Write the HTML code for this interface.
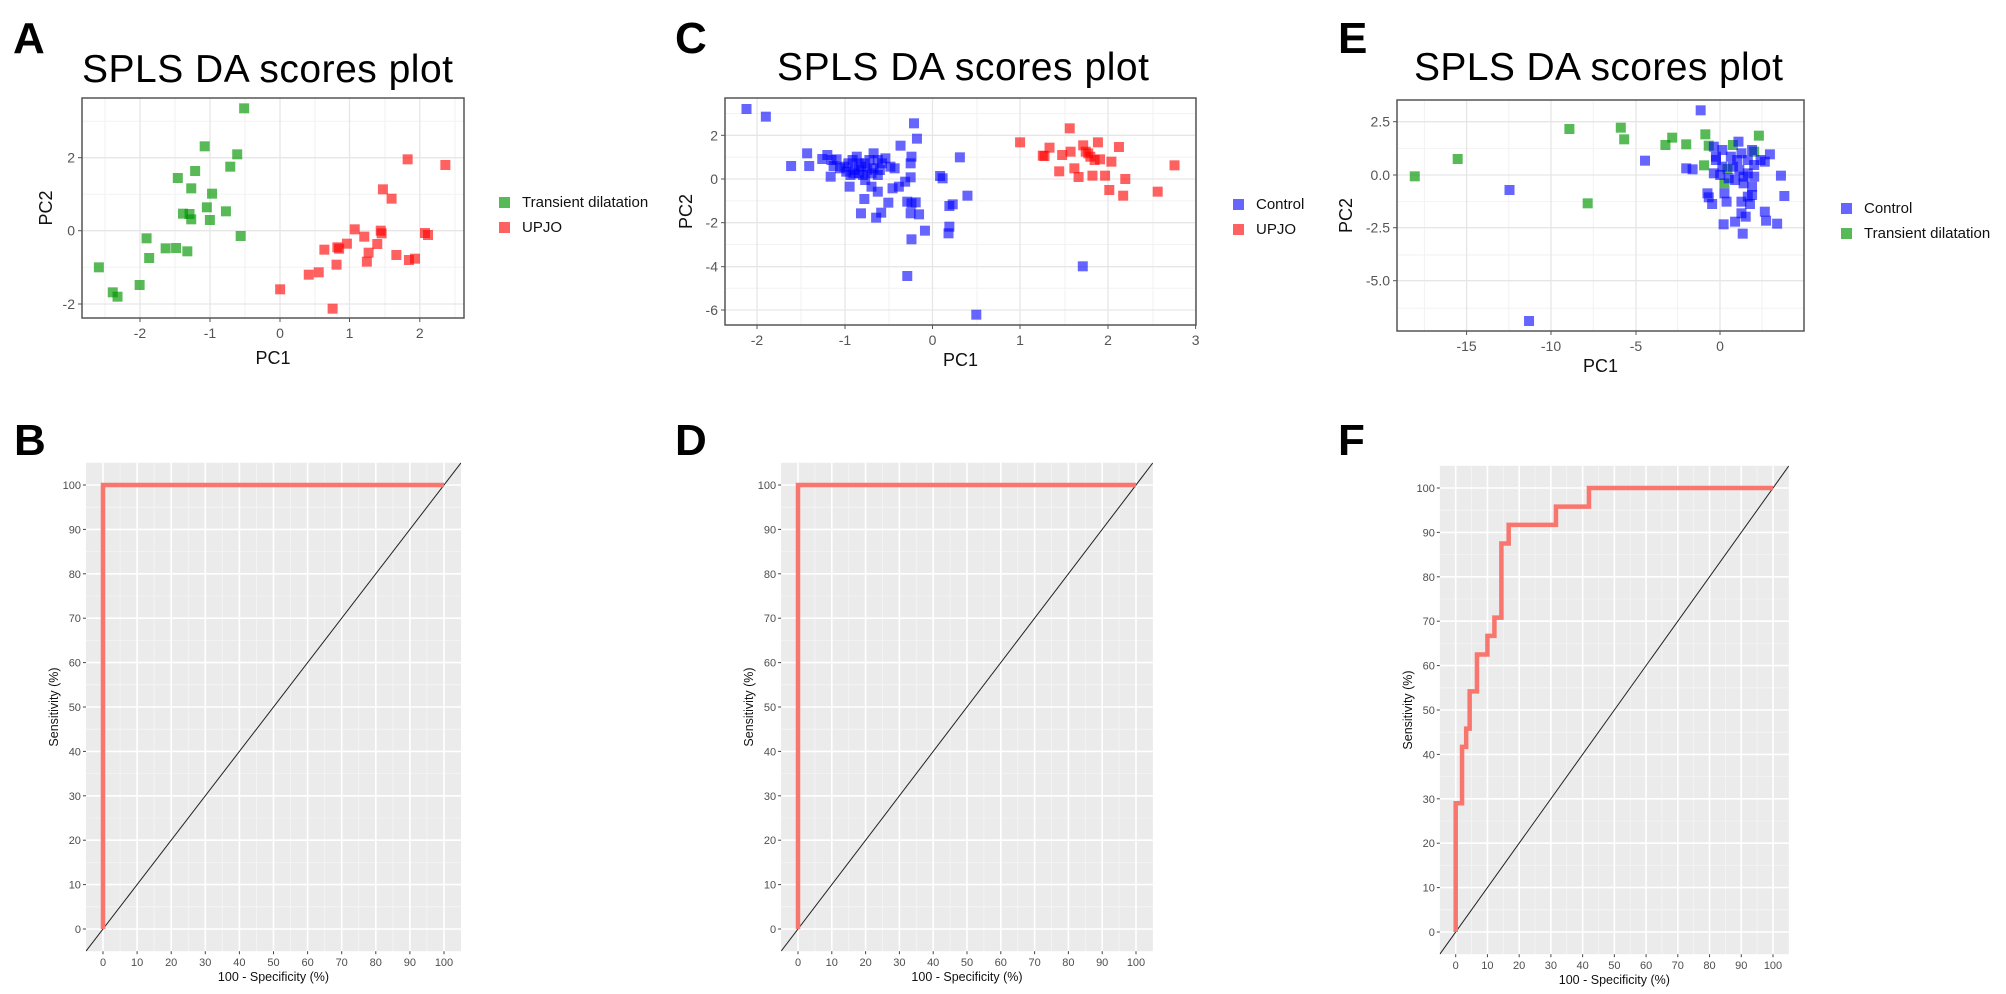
<!DOCTYPE html>
<html><head><meta charset="utf-8">
<style>
html,body{margin:0;padding:0;background:#fff;}
svg{display:block;font-family:"Liberation Sans",Arial,sans-serif;}
</style></head>
<body>
<svg id="s" width="2006" height="994" viewBox="0 0 2006 994" xmlns="http://www.w3.org/2000/svg">
<rect width="2006" height="994" fill="#fff"/>
<g font-weight="bold" font-size="44" fill="#000">
<text x="13" y="53">A</text>
<text x="14" y="455">B</text>
<text x="675" y="53">C</text>
<text x="675" y="455">D</text>
<text x="1338" y="53">E</text>
<text x="1338" y="455">F</text>
</g>
<g font-size="39" fill="#000">
<text x="82" y="82" textLength="371">SPLS DA scores plot</text>
<text x="777" y="80" textLength="372">SPLS DA scores plot</text>
<text x="1414" y="80" textLength="369">SPLS DA scores plot</text>
</g>
</svg>
<script>
var S=document.getElementById('s'),NS='http://www.w3.org/2000/svg';
function el(t,a,txt){var e=document.createElementNS(NS,t);for(var k in a)e.setAttribute(k,a[k]);if(txt!=null)e.textContent=txt;S.appendChild(e);return e;}
function line(x1,y1,x2,y2,c,w){el('line',{x1:x1,y1:y1,x2:x2,y2:y2,stroke:c,'stroke-width':w});}

// scatter panel
function scatter(o){
  var L=o.L,R=o.R,T=o.T,B=o.B;
  el('rect',{x:L,y:T,width:R-L,height:B-T,fill:'#fff'});
  // minor grid
  var xt=o.xt,yt=o.yt,dx=xt[1]-xt[0],dy=yt[1]-yt[0];
  for(var v=xt[0]-dx/2;v<R;v+=dx) if(v>L) line(v,T,v,B,'#f2f2f2',1);
  for(var v=yt[0]-dy/2;v<B;v+=dy) if(v>T) line(L,v,R,v,'#f2f2f2',1);
  xt.forEach(function(x){line(x,T,x,B,'#e6e6e6',1.3);});
  yt.forEach(function(y){line(L,y,R,y,'#e6e6e6',1.3);});
  // points
  o.sets.forEach(function(st){
    st.p.forEach(function(p){
      var x=o.ox+p[0]/o.sx,y=o.oy+p[1]/3;
      el('rect',{x:x-5,y:y-5,width:10,height:10,fill:st.c});
    });
  });
  el('rect',{x:L,y:T,width:R-L,height:B-T,fill:'none',stroke:'#555','stroke-width':1.5});
  xt.forEach(function(x,i){line(x,B,x,B+4,'#555',1);el('text',{x:x,y:B+20,'font-size':14,fill:'#555','text-anchor':'middle'},o.xl[i]);});
  yt.forEach(function(y,i){line(L-4,y,L,y,'#555',1);el('text',{x:L-7,y:y+5,'font-size':14,fill:'#555','text-anchor':'end'},o.yl[i]);});
  el('text',{x:(L+R)/2,y:o.xlab,'font-size':18,fill:'#111','text-anchor':'middle'},'PC1');
  var t=el('text',{x:0,y:0,'font-size':18,fill:'#111','text-anchor':'middle',transform:'translate('+o.ylabx+','+((T+B)/2)+') rotate(-90)'},'PC2');
  o.leg.forEach(function(g,i){
    el('rect',{x:o.lx-5,y:o.ly+i*25-5,width:11,height:11,fill:g.c});
    el('text',{x:o.lx+18,y:o.ly+i*25+5,'font-size':15,fill:'#111'},g.t);
  });
}
var G='rgba(0,150,0,0.66)',Rd='rgba(255,0,0,0.62)',Bl='rgba(0,0,255,0.6)';
scatter({L:82,R:464,T:98,B:318,xt:[140,210,280,349.5,419.8],yt:[157.7,230.7,304],xl:['-2','-1','0','1','2'],yl:['2','0','-2'],
 ox:0,oy:60,sx:2.306,xlab:364,ylabx:52,lx:504,ly:202,
 leg:[{c:G,t:'Transient dilatation'},{c:Rd,t:'UPJO'}],
 sets:[{c:G,p:[[563,145],[472,259],[547,283],[531,320],[450,333],[410,354],[441,385],[489,401],[477,442],[422,461],[437,462],[441,478],[484,480],[521,454],[555,528],[338,535],[382,565],[406,564],[432,574],[344,594],[228,622],[322,675],[260,697],[271,710]]},
 {c:Rd,p:[[940,298],[1027,315],[883,388],[903,416],[818,508],[840,530],[878,512],[880,520],[800,551],[778,562],[782,566],[748,569],[870,552],[850,578],[846,605],[776,614],[914,585],[943,600],[957,596],[980,519],[987,525],[735,637],[712,644],[646,688],[767,746]]}]});
scatter({L:725,R:1196,T:98,B:325,xt:[757,845,932.5,1020,1108,1195.6],yt:[135.3,179,222.7,266.7,310],xl:['-2','-1','0','1','2','3'],yl:['2','0','-2','-4','-6'],
 ox:680,oy:60,sx:2.376,xlab:366,ylabx:692,lx:1238,ly:204,
 leg:[{c:Bl,t:'Control'},{c:Rd,t:'UPJO'}],
 sets:[{c:Bl,p:[[158,147],[204,170],[556,190],[563,236],[524,257],[302,280],[264,318],[307,318],[350,285],[338,297],[360,300],[372,298],[365,318],[358,350],[380,325],[400,310],[410,300],[420,290],[415,330],[430,320],[440,310],[450,300],[460,280],[470,300],[480,310],[488,295],[500,320],[510,325],[395,335],[405,345],[425,340],[435,345],[455,340],[470,345],[445,330],[460,325],[475,330],[403,380],[440,360],[455,380],[470,395],[505,385],[520,380],[535,365],[548,352],[548,310],[550,290],[618,348],[624,355],[665,292],[438,417],[495,428],[540,425],[550,430],[560,427],[683,407],[640,438],[648,433],[430,460],[478,458],[466,473],[548,460],[568,463],[640,500],[582,512],[638,520],[550,538],[540,648],[957,619],[704,764],[412,340],[390,320],[425,310]]},
 {c:Rd,p:[[808,247],[926,205],[878,263],[862,287],[866,288],[908,285],[928,275],[958,256],[964,275],[993,247],[1043,261],[975,290],[998,298],[1025,305],[985,300],[901,334],[937,325],[947,351],[980,347],[1010,347],[1058,357],[1175,316],[1020,390],[1053,407],[1135,395],[970,280]]}]});
scatter({L:1397,R:1804,T:100,B:331,xt:[1466.6,1551,1636,1720],yt:[121.7,175,227.7,280.7],xl:['-15','-10','-5','0'],yl:['2.5','0.0','-2.5','-5.0'],
 ox:1340,oy:60,sx:2.354,xlab:372,ylabx:1352,lx:1846,ly:208,
 leg:[{c:Bl,t:'Control'},{c:G,t:'Transient dilatation'}],
 sets:[{c:G,p:[[176,349],[277,297],[540,207],[661,203],[669,238],[583,430],[766,255],[782,233],[815,253],[860,223],[868,257],[986,227],[857,316],[912,327],[975,275],[925,255],[905,370]]},
 {c:Bl,p:[[849,151],[718,302],[399,390],[445,783],[815,325],[830,328],[938,245],[880,260],[900,270],[920,290],[945,280],[960,300],[970,270],[885,300],[900,320],[925,320],[940,330],[960,340],[975,350],[880,340],[895,345],[930,360],[950,370],[970,380],[1000,305],[1012,283],[1038,347],[1046,408],[865,400],[868,412],[876,432],[905,400],[910,425],[945,425],[960,410],[970,405],[965,432],[945,460],[955,470],[930,485],[903,493],[948,521],[1000,455],[1003,482],[1029,491],[885,290],[915,355],[975,315],[990,300],[950,350],[935,300]]}]});

// ROC panels
function roc(x0,x100,y100,y0,pts){
  var kx=(x100-x0)/100,ky=(y0-y100)/100;
  function X(v){return x0+v*kx;} function Y(v){return y0-v*ky;}
  var L=X(-5),R=X(105),T=Y(105),B=Y(-5);
  el('rect',{x:L,y:T,width:R-L,height:B-T,fill:'#ebebeb'});
  for(var v=5;v<100;v+=10){line(X(v),T,X(v),B,'#f5f5f5',0.8);line(L,Y(v),R,Y(v),'#f5f5f5',0.8);}
  for(var v=0;v<=100;v+=10){line(X(v),T,X(v),B,'#fff',1.6);line(L,Y(v),R,Y(v),'#fff',1.6);}
  var cp='c'+Math.round(x0);
  var d=el('clipPath',{id:cp});
  var r=document.createElementNS(NS,'rect');r.setAttribute('x',L);r.setAttribute('y',T);r.setAttribute('width',R-L);r.setAttribute('height',B-T);d.appendChild(r);
  el('line',{x1:X(-5),y1:Y(-5),x2:X(105),y2:Y(105),stroke:'#222','stroke-width':1,'clip-path':'url(#'+cp+')'});
  el('polyline',{points:pts.map(function(p){return X(p[0])+','+Y(p[1]);}).join(' '),fill:'none',stroke:'#f8766d','stroke-width':4.5,'stroke-linejoin':'miter'});
  for(var v=0;v<=100;v+=10){
    line(X(v),B,X(v),B+3,'#444',1);
    el('text',{x:X(v),y:B+15,'font-size':11,fill:'#4d4d4d','text-anchor':'middle'},String(v));
    line(L-3,Y(v),L,Y(v),'#444',1);
    el('text',{x:L-5,y:Y(v)+4,'font-size':11,fill:'#4d4d4d','text-anchor':'end'},String(v));
  }
  el('text',{x:(X(0)+X(100))/2,y:B+30,'font-size':12.5,fill:'#111','text-anchor':'middle'},'100 - Specificity (%)');
  el('text',{x:0,y:0,'font-size':12.5,fill:'#111','text-anchor':'middle',transform:'translate('+(L-28)+','+((T+B)/2)+') rotate(-90)'},'Sensitivity (%)');
}
var sq=[[0,0],[0,100],[100,100]];
roc(103,444,485,929,sq);
roc(798,1136,485,929,sq);
roc(1455.7,1773,488,932,[[0,0],[0,29],[2,29],[2,41.7],[3.3,41.7],[3.3,45.8],[4.4,45.8],[4.4,54.2],[6.7,54.2],[6.7,62.5],[10,62.5],[10,66.7],[12.2,66.7],[12.2,70.8],[14.4,70.8],[14.4,87.5],[16.7,87.5],[16.7,91.7],[31.6,91.7],[31.6,95.8],[42,95.8],[42,100],[100,100]]);
</script>
</body></html>
